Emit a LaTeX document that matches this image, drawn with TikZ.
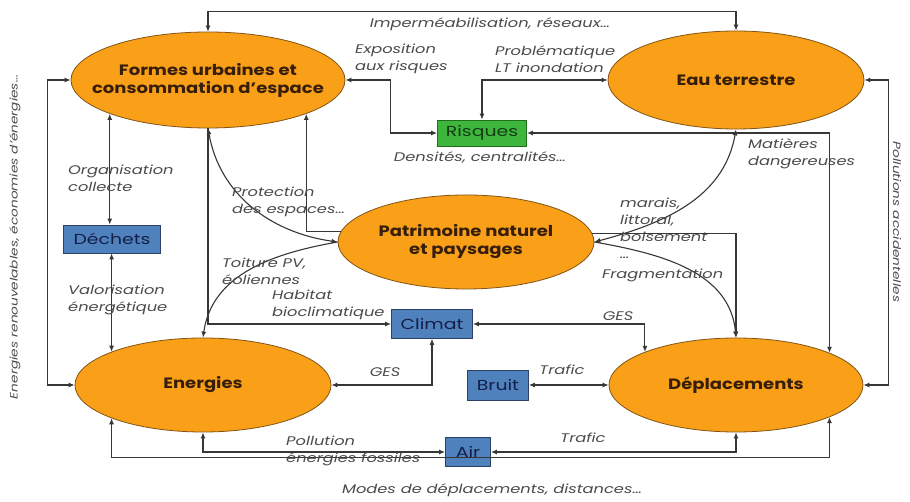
\documentclass[tikz,border=0pt]{standalone}
\usepackage{fontspec}
\setmainfont{Poppins}
\newfontfamily\lblfont{Poppins}[FakeStretch=1.3]
\newfontfamily\ellfont{Poppins}[FakeStretch=1.2]
\usetikzlibrary{shapes.geometric,arrows.meta}
\definecolor{orangeF}{RGB}{249,160,24}
\definecolor{ellB}{RGB}{130,85,20}
\definecolor{ellT}{RGB}{55,30,10}
\definecolor{blueF}{RGB}{79,129,189}
\definecolor{boxB}{RGB}{45,65,100}
\definecolor{boxT}{RGB}{20,30,70}
\definecolor{greenF}{RGB}{62,182,62}
\definecolor{greenB}{RGB}{30,110,30}
\definecolor{greenT}{RGB}{20,60,20}
\definecolor{lineC}{RGB}{55,55,55}
\definecolor{lblC}{RGB}{75,75,75}
\begin{document}
\begin{tikzpicture}[x=1pt,y=1pt,
  ell/.style={ellipse, draw=ellB, line width=0.8pt, fill=orangeF, inner sep=0pt},
  etxt/.style={font=\ellfont\fontsize{15}{18}\selectfont\bfseries, text=ellT, align=center, inner sep=0pt},
  bluebox/.style={rectangle, draw=boxB, line width=0.8pt, fill=blueF, text=boxT, font=\lblfont\fontsize{14.5}{16}\selectfont, inner sep=0pt},
  greenbox/.style={rectangle, draw=greenB, line width=0.8pt, fill=greenF, text=greenT, font=\lblfont\fontsize{14.5}{16}\selectfont, inner sep=0pt},
  lbl/.style={font=\lblfont\fontsize{12.5}{17}\selectfont\itshape, text=lblC, align=left, inner sep=0pt},
  sidelbl/.style={font=\lblfont\fontsize{10.5}{13}\selectfont\itshape, text=lblC, inner sep=0pt},
  both/.style={draw=lineC, line width=1.1pt, {Latex[length=6pt,width=5pt]}-{Latex[length=6pt,width=5pt]}},
  fwd/.style={draw=lineC, line width=1.1pt, -{Latex[length=6pt,width=5pt]}}
]
\useasboundingbox (0,0) rectangle (910,502);
\fill[white] (0,0) rectangle (910,502);

% ellipses
\node[ell, minimum width=274pt, minimum height=96pt] (F) at (208,422) {};
\node[etxt] (Ft) at (F) {Formes urbaines et\\consommation d’espace};
\node[ell, minimum width=256pt, minimum height=98pt] (E) at (736,422) {};
\node[etxt] (Et) at (E) {Eau terrestre};
\node[ell, minimum width=256pt, minimum height=94pt] (P) at (466,260) {};
\node[etxt] (Pt) at (P) {Patrimoine naturel\\et paysages};
\node[ell, minimum width=256pt, minimum height=94pt] (N) at (203,117) {};
\node[etxt] (Nt) at (N) {Energies};
\node[ell, minimum width=254pt, minimum height=94pt] (D) at (736,117) {};
\node[etxt] (Dt) at (D) {Déplacements};

% boxes
\node[greenbox, minimum width=89pt, minimum height=26pt] (R) at (482,369) {Risques};
\node[bluebox, minimum width=97pt, minimum height=28pt] (W) at (112,263) {Déchets};
\node[bluebox, minimum width=81pt, minimum height=29pt] (C) at (432,178) {Climat};
\node[bluebox, minimum width=61pt, minimum height=30pt] (B) at (498,117) {Bruit};
\node[bluebox, minimum width=45pt, minimum height=29pt] (A) at (468,50) {Air};

% connectors
\draw[both] (F.north) -- ++(0,20) -| (E.north);
\draw[both] (F.east) -- ++(45,0) |- (R.west);
\draw[both] (E.west) -| (R.north);
\draw[both] (R.east) -| (D.19.8);
\draw[both] (E.south) to[out=-100,in=15] (P.east);
\draw[fwd] (P.east) to[out=-10,in=95] (D.north);
\draw[fwd] (P.4.1) -| (D.north);
\draw[both] (F.south) to[out=-80,in=172] (P.west);
\draw[fwd] (P.west) to[out=190,in=82] (N.north);
\draw[fwd] (P.175.4) -| (F.-19.3);
\draw[fwd] (F.south) |- (C.west);
\draw[both] (F.199.6) -- (F.199.6 |- W.north);
\draw[both] (N.160) -- (N.160 |- W.south);
\draw[both] (F.west) -- ++(-23,0) |- (N.west);
\draw[both] (E.east) -- ++(24,0) |- (D.east);
\draw[both] (D.160.2) |- (C.east);
\draw[both] (C.south) |- (N.east);
\draw[both] (B.east) -- (D.west);
\draw[both] (N.south) |- (A.west);
\draw[both] (D.south) |- (A.east);
\draw[both] (N.-160) -- ++(0,-39) -| (D.-19.8);

% labels
\node[lbl] (l1) at (490,478) {Imperméabilisation, réseaux…};
\node[lbl, anchor=west] (l2) at (355,443) {Exposition\\aux risques};
\node[lbl, anchor=west] (l3) at (495,443) {Problématique\\LT inondation};
\node[lbl] (l4) at (480,344) {Densités, centralités…};
\node[lbl, anchor=west] (l5) at (748,348) {Matières\\dangereuses};
\node[lbl, anchor=west] (l6) at (68,324) {Organisation\\collecte};
\node[lbl, anchor=west] (l7) at (68,202) {Valorisation\\énergétique};
\node[lbl, anchor=west] (l8) at (232,300) {Protection\\des espaces…};
\node[lbl, anchor=west] (l9) at (222,231) {Toiture PV,\\éoliennes};
\node[lbl, anchor=west] (l10) at (272,197) {Habitat\\bioclimatique};
\node[lbl, anchor=west] (l11) at (620,274) {marais,\\littoral,\\boisement\\…};
\node[lbl, anchor=west] (l12) at (602,227) {Fragmentation};
\node[lbl] (l13) at (618,186) {GES};
\node[lbl] (l14) at (385,130) {GES};
\node[lbl] (l15) at (562,132) {Trafic};
\node[lbl] (l16) at (583,64) {Trafic};
\node[lbl, anchor=west] (l17) at (286,51) {Pollution\\énergies fossiles};
\node[lbl] (l18) at (492,12) {Modes de déplacements, distances…};
\node[sidelbl, rotate=90] (l19) at (15,265) {Energies renouvelables, économies d’énergies…};
\node[sidelbl, rotate=-90] (l20) at (897,280) {Pollutions accidentelles};
\end{tikzpicture}
\end{document}
